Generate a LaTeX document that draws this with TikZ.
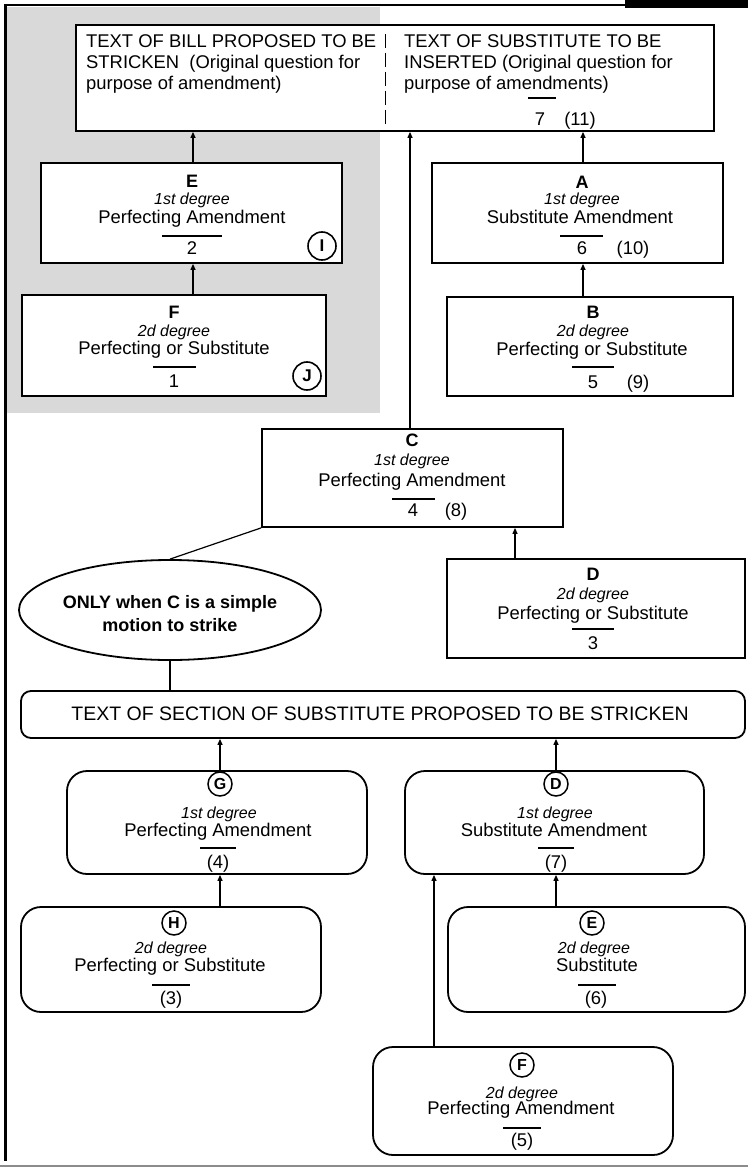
\documentclass[tikz,border=0pt]{standalone}
\usepackage{fontspec}
\setmainfont{Liberation Sans}
\usetikzlibrary{arrows.meta,shapes.geometric}
\begin{document}
\begin{tikzpicture}[x=1pt,y=-1pt,
  bx/.style={draw,line width=1.8pt,fill=white,inner sep=0pt,rectangle},
  rbx/.style={bx,rounded corners=20pt},
  arr/.style={line width=1.2pt,-{Triangle[length=6pt,width=5pt]}},
  ln/.style={line width=1.2pt},
  tx/.style={anchor=base,inner sep=0pt,font=\fontsize{18.4}{22}\selectfont},
  txw/.style={tx,anchor=base west},
  it/.style={tx,font=\fontsize{16}{19}\selectfont\itshape},
  bl/.style={tx,font=\fontsize{18}{21}\selectfont\bfseries},
  ol/.style={line width=1.3pt},
  circ/.style={draw,circle,line width=1.6pt,minimum size=28pt,inner sep=0pt,font=\fontsize{17}{17}\selectfont\bfseries},
  scirc/.style={draw,circle,line width=1.5pt,minimum size=24pt,inner sep=0pt,font=\fontsize{16}{16}\selectfont\bfseries}
]
\useasboundingbox (0,0) rectangle (748,1169);
% frame and shading
\fill[black!15] (7,7) rectangle (380,413);
\draw[line width=3pt] (5,4) -- (5,1161);
\draw[line width=2.5pt] (4,5) -- (748,5);
\fill (625,0) rectangle (748,8);
\draw[black!45,line width=2pt] (0,1166) -- (748,1166);

% boxes
\node[bx,minimum width=638pt,minimum height=106pt] (top) at (395,78) {};
\node[bx,minimum width=301pt,minimum height=100pt] (E) at (191.5,213) {};
\node[bx,minimum width=291pt,minimum height=100pt] (A) at (577.5,213) {};
\node[bx,minimum width=304pt,minimum height=101pt] (F) at (174,345.5) {};
\node[bx,minimum width=286pt,minimum height=99pt] (B) at (590,346.5) {};
\node[bx,minimum width=301pt,minimum height=98pt] (C) at (412.5,478) {};
\node[bx,minimum width=298pt,minimum height=99pt] (D) at (596,608.5) {};
\node[draw,ellipse,line width=1.8pt,fill=white,minimum width=302pt,minimum height=100pt,inner sep=0pt] (ell) at (170,610) {};
\node[bx,rounded corners=10pt,minimum width=724pt,minimum height=47pt] (sec) at (383,714.5) {};
\node[rbx,minimum width=300pt,minimum height=103pt] (G) at (217,822.5) {};
\node[rbx,minimum width=299pt,minimum height=103pt] (D2) at (554.5,822.5) {};
\node[rbx,minimum width=300pt,minimum height=105pt] (H) at (171,959.5) {};
\node[rbx,minimum width=297pt,minimum height=105pt] (E2) at (596.5,959.5) {};
\node[rbx,minimum width=300pt,minimum height=108pt] (F2) at (523,1101) {};

% divider in top box
\draw[line width=1pt,dash pattern=on 14pt off 5pt] (385,34) -- (385,127);

% top box text
\node[txw] (t1) at (86,47.5) {TEXT OF BILL PROPOSED TO BE};
\node[txw] (t2) at (86,68.5) {STRICKEN\ \ (Original question for};
\node[txw] (t3) at (86,89.5) {purpose of amendment)};
\node[txw] (t4) at (404,47.5) {TEXT OF SUBSTITUTE TO BE};
\node[txw] (t5) at (404,68.5) {INSERTED (Original question for};
\node[txw] (t6) at (404,89.5) {purpose of amendments)};
\draw[ol] (528,98) -- (556,98);
\node[tx] (t7) at (540,125.5) {7};
\node[tx] (t8) at (580,125.5) {(11)};

% E
\node[bl] (e1) at (192,187.5) {E};
\node[it] (e2) at (192,204.5) {1st degree};
\node[tx] (e3) at (192,223.5) {Perfecting Amendment};
\draw[ol] (162,236) -- (222,236);
\node[tx] (e4) at (192,254.5) {2};
\node[circ] (cI) at (322,246) {I};
% A
\node[bl] (a1) at (582,188.5) {A};
\node[it] (a2) at (582,204.5) {1st degree};
\node[tx] (a3) at (580,223.5) {Substitute Amendment};
\draw[ol] (560,236) -- (603,236);
\node[tx] (a4) at (582,254.5) {6};
\node[tx] (a5) at (633,254.5) {(10)};
% F
\node[bl] (f1) at (174,318.5) {F};
\node[it] (f2) at (174,336.5) {2d degree};
\node[tx] (f3) at (174,354.5) {Perfecting or Substitute};
\draw[ol] (153,367) -- (196,367);
\node[tx] (f4) at (174,387.5) {1};
\node[circ] (cJ) at (307,376) {J};
% B
\node[bl] (b1) at (593,318.5) {B};
\node[it] (b2) at (593,336.5) {2d degree};
\node[tx] (b3) at (592,355.5) {Perfecting or Substitute};
\draw[ol] (572,367) -- (614,367);
\node[tx] (b4) at (593,388.5) {5};
\node[tx] (b5) at (638,388.5) {(9)};
% C
\node[bl] (c1) at (412,446.5) {C};
\node[it] (c2) at (412,465.5) {1st degree};
\node[tx] (c3) at (412,486.5) {Perfecting Amendment};
\draw[ol] (392,499) -- (435,499);
\node[tx] (c4) at (413,516.5) {4};
\node[tx] (c5) at (456,516.5) {(8)};
% D
\node[bl] (d1) at (593,580.5) {D};
\node[it] (d2) at (593,599.5) {2d degree};
\node[tx] (d3) at (593,619.5) {Perfecting or Substitute};
\draw[ol] (572,629) -- (614,629);
\node[tx] (d4) at (593,649.5) {3};
% ellipse
\node[bl] (o1) at (170,608.5) {ONLY when C is a simple};
\node[bl] (o2) at (170,631.5) {motion to strike};
% section
\node[tx,font=\fontsize{19.5}{22}\selectfont] (s1) at (380,720) {TEXT OF SECTION OF SUBSTITUTE PROPOSED TO BE STRICKEN};
% G
\node[scirc] (cG) at (220,784) {G};
\node[it] (g2) at (219,818.5) {1st degree};
\node[tx] (g3) at (218,836.5) {Perfecting Amendment};
\draw[ol] (200,848) -- (236,848);
\node[tx] (g4) at (218,868.5) {(4)};
% D2
\node[scirc] (cD) at (556,784) {D};
\node[it] (h2) at (555,818.5) {1st degree};
\node[tx] (h3) at (554,836.5) {Substitute Amendment};
\draw[ol] (538,848) -- (574,848);
\node[tx] (h4) at (556,868.5) {(7)};
% H
\node[scirc] (cH) at (174,923) {H};
\node[it] (i2) at (171,953.5) {2d degree};
\node[tx] (i3) at (170,971.5) {Perfecting or Substitute};
\draw[ol] (152,985) -- (190,985);
\node[tx] (i4) at (171,1004.5) {(3)};
% E2
\node[scirc] (cE) at (592,923) {E};
\node[it] (j2) at (594,953.5) {2d degree};
\node[tx] (j3) at (597,971.5) {Substitute};
\draw[ol] (578,985) -- (616,985);
\node[tx] (j4) at (596,1004.5) {(6)};
% F2
\node[scirc] (cF) at (522,1065) {F};
\node[it] (k2) at (522,1098.5) {2d degree};
\node[tx] (k3) at (521,1114.5) {Perfecting Amendment};
\draw[ol] (503,1128) -- (541,1128);
\node[tx] (k4) at (522,1146.5) {(5)};

% connector x positions
\coordinate (xE) at (193,0);
\coordinate (xC) at (410,0);
\coordinate (xA) at (583,0);
\coordinate (xD) at (515,0);
\coordinate (xG) at (220,0);
\coordinate (xD2) at (556,0);
\coordinate (xF2) at (434,0);

% connectors
\draw[arr] (E.north -| xE) -- (top.south -| xE);
\draw[arr] (C.north -| xC) -- (top.south -| xC);
\draw[arr] (A.north -| xA) -- (top.south -| xA);
\draw[arr] (F.north -| xE) -- (E.south -| xE);
\draw[arr] (B.north -| xA) -- (A.south -| xA);
\draw[arr] (D.north -| xD) -- (C.south -| xD);
\draw[ln] (C.south west) -- (ell.north);
\draw[ln] (ell.south) -- (ell.south |- sec.north);
\draw[arr] (G.north -| xG) -- (sec.south -| xG);
\draw[arr] (D2.north -| xD2) -- (sec.south -| xD2);
\draw[arr] (H.north -| xG) -- (G.south -| xG);
\draw[arr] (E2.north -| xD2) -- (D2.south -| xD2);
\draw[arr] (F2.north -| xF2) -- (D2.south -| xF2);
\end{tikzpicture}
\end{document}
